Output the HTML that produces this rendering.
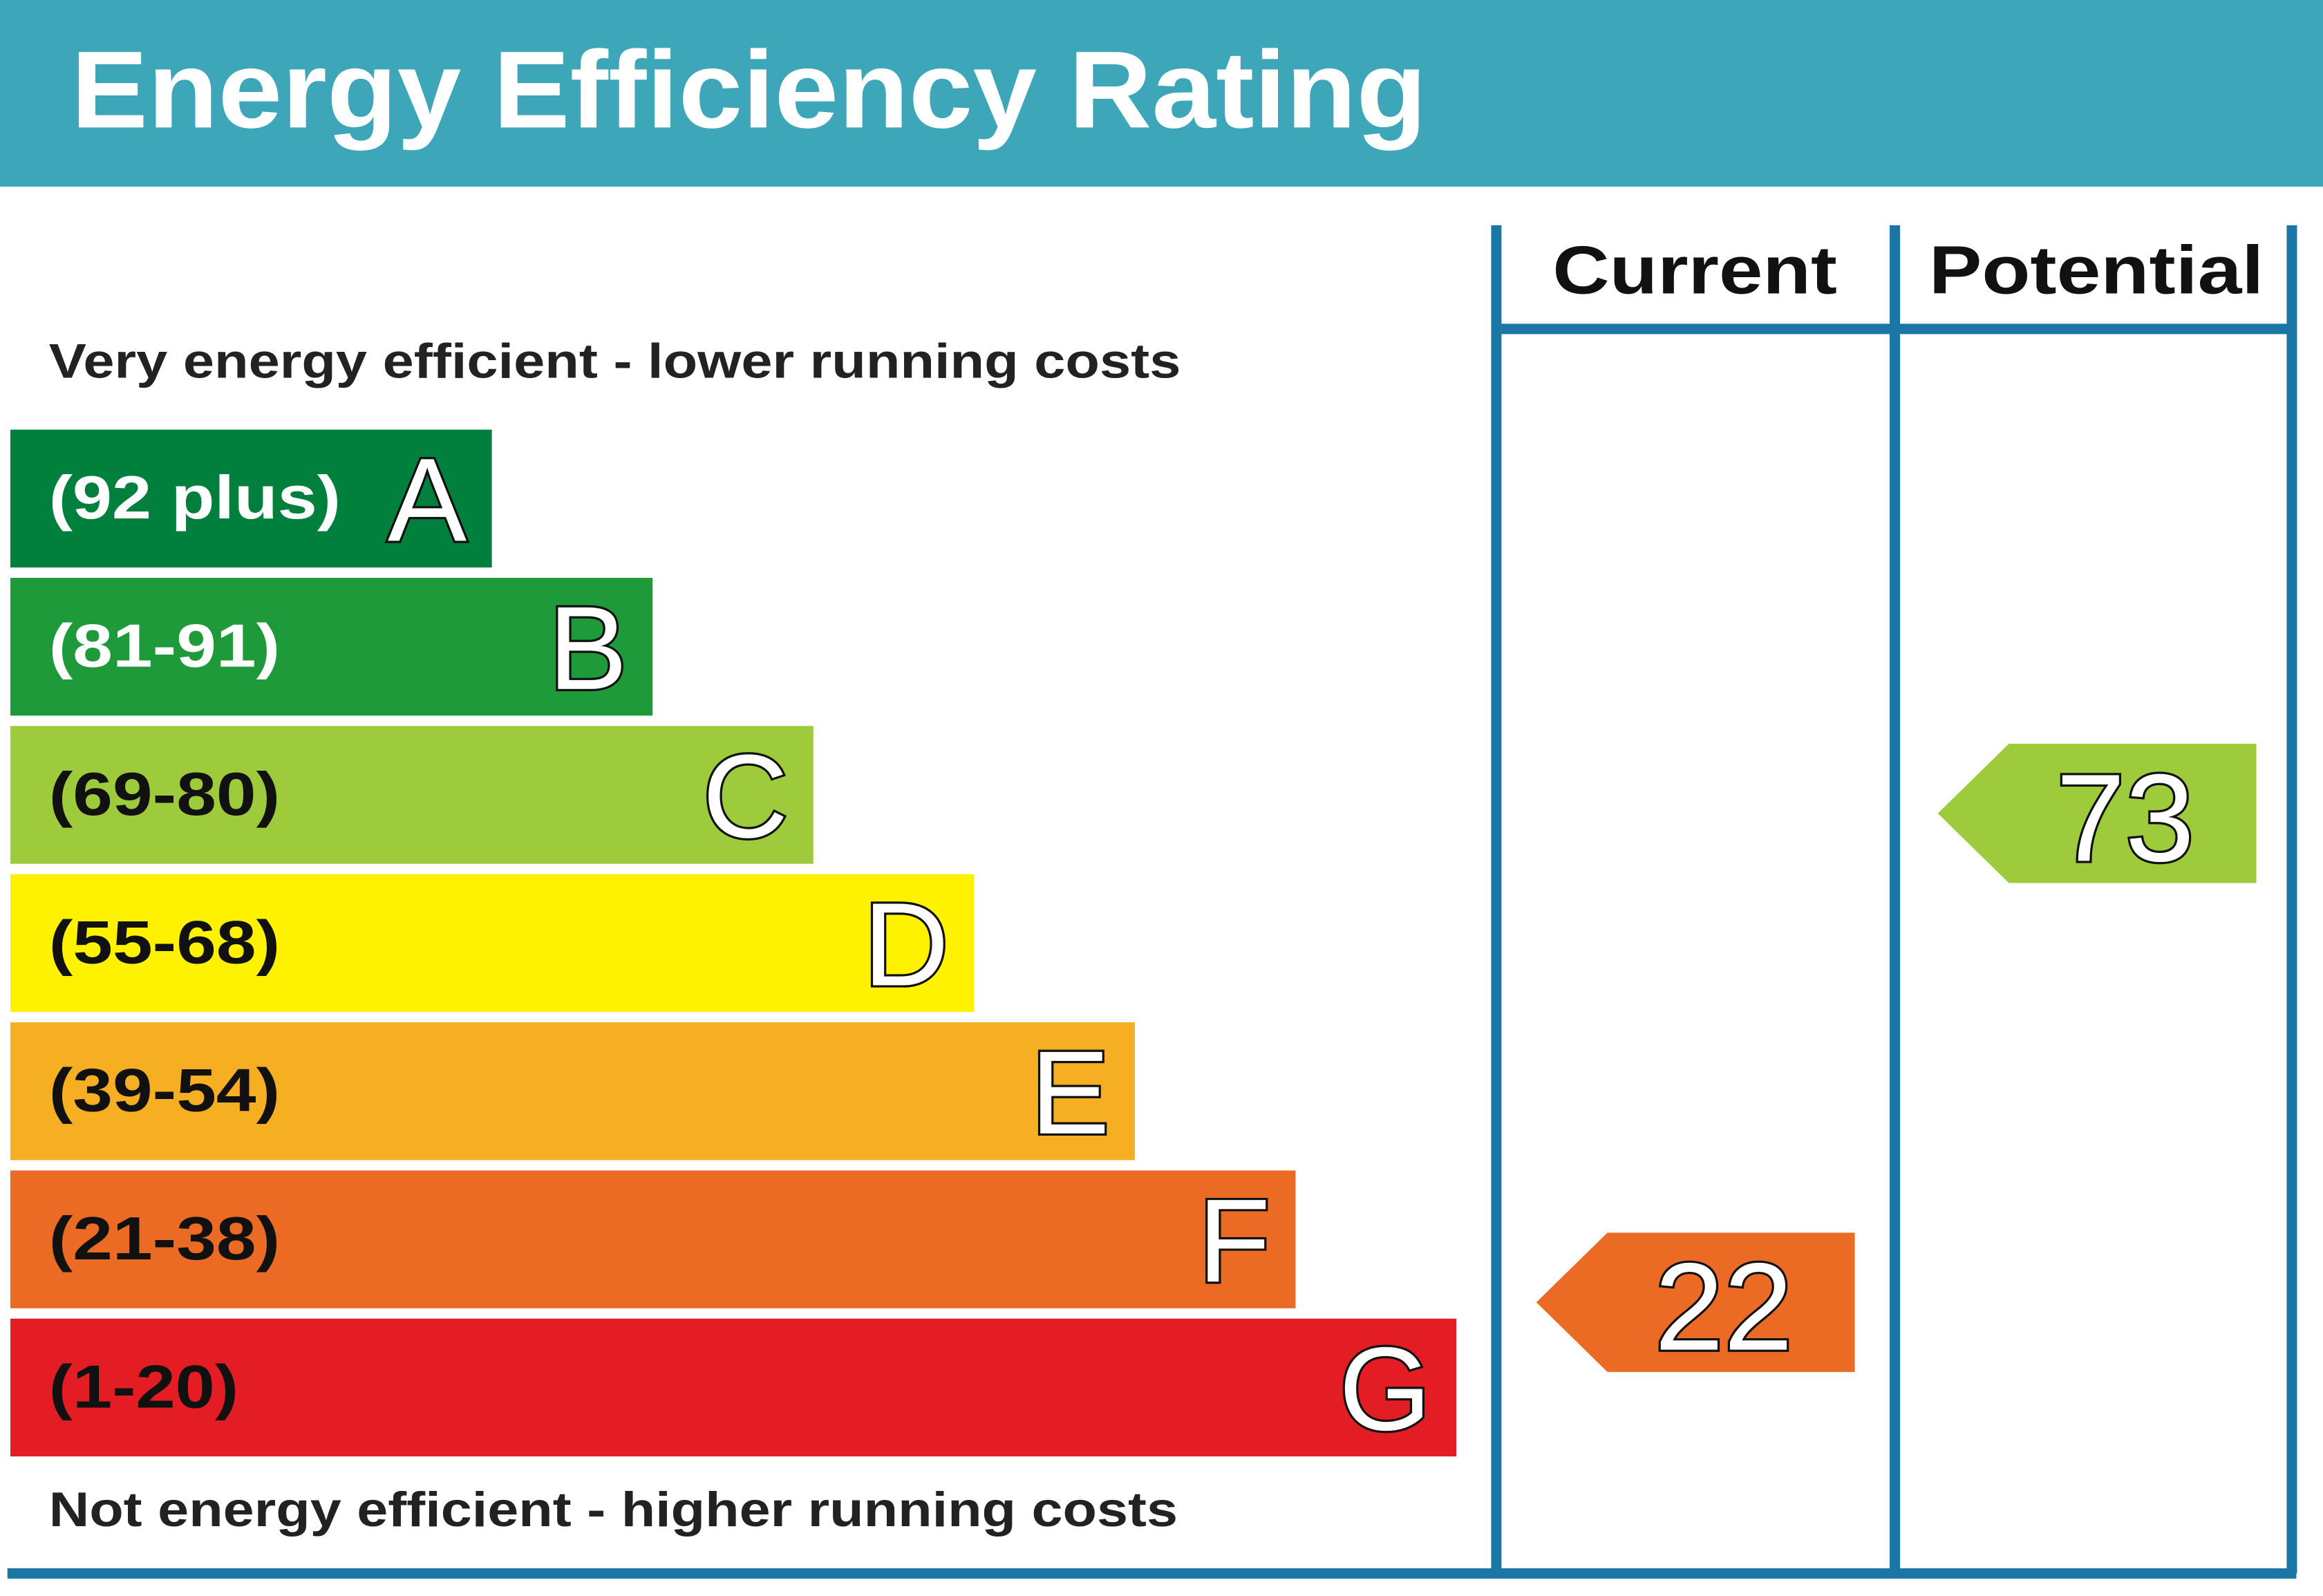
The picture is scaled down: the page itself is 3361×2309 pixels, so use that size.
<!DOCTYPE html>
<html><head><meta charset="utf-8"><style>
html,body{margin:0;padding:0;background:#fff;}
svg{display:block;}
text{font-family:"Liberation Sans",Arial,sans-serif;font-weight:bold;}
</style></head><body>
<svg id="chart" width="3361" height="2309" viewBox="0 0 1568 1077.2" preserveAspectRatio="none" xmlns="http://www.w3.org/2000/svg">
<rect x="0" y="0" width="1568" height="126" fill="#3ea6b9"/>
<text x="48" y="86" font-size="74" fill="#fff" textLength="915" lengthAdjust="spacingAndGlyphs">Energy Efficiency Rating</text>
<g stroke="#1b76a6" stroke-width="7" fill="none">
<line x1="1010" y1="152" x2="1010" y2="1062"/>
<line x1="1279" y1="152" x2="1279" y2="1062"/>
<line x1="1547" y1="152" x2="1547" y2="1062"/>
<line x1="1010" y1="222" x2="1547" y2="222"/>
<line x1="5" y1="1062" x2="1550" y2="1062"/>
</g>
<text x="1048" y="198" font-size="46" fill="#111" textLength="192" lengthAdjust="spacingAndGlyphs">Current</text>
<text x="1302" y="198" font-size="46" fill="#111" textLength="226" lengthAdjust="spacingAndGlyphs">Potential</text>
<text x="33" y="255" font-size="33" fill="#222" textLength="764" lengthAdjust="spacingAndGlyphs">Very energy efficient - lower running costs</text>
<text x="33" y="1030" font-size="33" fill="#222" textLength="762" lengthAdjust="spacingAndGlyphs">Not energy efficient - higher running costs</text>
<g id="bands"></g>
<g id="arrows"></g>
</svg>
<script>
const bandLetters=["A","B","C","D","E","F","G"];
const bandRanges=["(92 plus)","(81-91)","(69-80)","(55-68)","(39-54)","(21-38)","(1-20)"];
const bandColors=["#007f3d","#1f9a3b","#9dcb3c","#fff200","#f6ae22","#eb6a24","#e31d23"];
const currentValue=22;
const potentialValue=73;
const NS="http://www.w3.org/2000/svg";
const bands=document.getElementById('bands');
function bandTop(i){return 290+i*100;}
function bandRight(i){return 332+i*108.5;}
function valueY(v){return 1021.3-6.47*v;}
function mk(t,a){const e=document.createElementNS(NS,t);for(const k in a)e.setAttribute(k,a[k]);return e;}
bandLetters.forEach((L,i)=>{
  const g=mk('g',{});
  
  
  const y=bandTop(i);
  g.appendChild(mk('rect',{x:7,y:y,width:bandRight(i)-7,height:93,fill:bandColors[i]}));
  const r=mk('text',{x:33,y:y+60,'font-size':41,fill:i<2?'#fff':'#111'});
  r.textContent=bandRanges[i];
  const s=bandRanges[i].length;
  r.setAttribute('textLength', s===9?197:(s===6?128:156));
  r.setAttribute('lengthAdjust','spacingAndGlyphs');
  g.appendChild(r);
  const l=mk('text',{x:bandRight(i)-17,y:y+75,'font-size':80,'font-weight':'normal','text-anchor':'end',fill:'#fff',stroke:'#111','stroke-width':3,'paint-order':'stroke'});
  l.style.fontWeight='normal';
  l.textContent=L;
  g.appendChild(l);
  bands.appendChild(g);
});
function bandIndex(v){return v>=92?0:v>=81?1:v>=69?2:v>=55?3:v>=39?4:v>=21?5:6;}
const arrows=document.getElementById('arrows');
function arrow(v,x0,name){
  const cy=valueY(v),h=94,tip=x0,bx=x0+48,rx=x0+215;
  const g=mk('g',{});
  
  
  g.appendChild(mk('polygon',{points:`${tip},${cy} ${bx},${cy-h/2} ${rx},${cy-h/2} ${rx},${cy+h/2} ${bx},${cy+h/2}`,fill:bandColors[bandIndex(v)]}));
  const t=mk('text',{x:(bx+rx)/2-5,y:cy+32,'font-size':84,'text-anchor':'middle',fill:'#fff',stroke:'#111','stroke-width':3,'paint-order':'stroke'});
  t.style.fontWeight='normal';
  t.textContent=v;
  g.appendChild(t);
  arrows.appendChild(g);
}
arrow(currentValue,1037,'current-rating-arrow');
arrow(potentialValue,1308,'potential-rating-arrow');
</script>
</body></html>
